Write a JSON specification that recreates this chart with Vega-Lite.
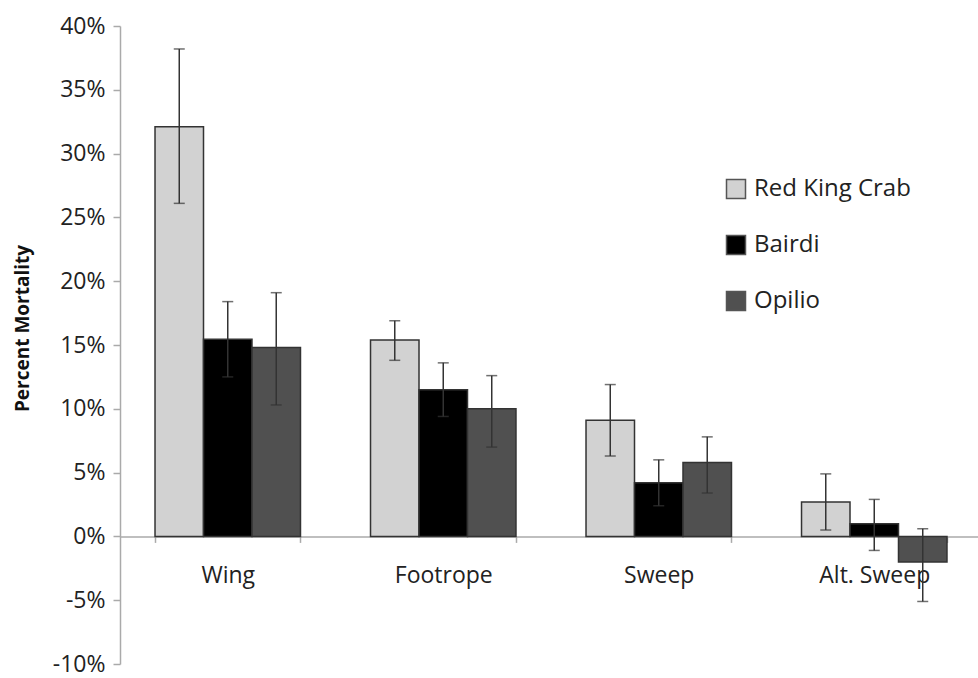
{
  "$schema": "https://vega.github.io/schema/vega-lite/v6.json",
  "width": 862,
  "height": 638,
  "autosize": {"type": "none"},
  "padding": {"left": 120, "top": 26, "right": 0, "bottom": 14},
  "background": "white",
  "config": {"view": {"stroke": null}, "font": "Open Sans"},
  "data": {
    "values": [
      {"gear": "Wing", "species": "Red King Crab", "mortality": 32.1, "lo": 26.1, "hi": 38.2},
      {"gear": "Wing", "species": "Bairdi", "mortality": 15.45, "lo": 12.5, "hi": 18.4},
      {"gear": "Wing", "species": "Opilio", "mortality": 14.8, "lo": 10.3, "hi": 19.1},
      {"gear": "Footrope", "species": "Red King Crab", "mortality": 15.4, "lo": 13.8, "hi": 16.9},
      {"gear": "Footrope", "species": "Bairdi", "mortality": 11.5, "lo": 9.4, "hi": 13.6},
      {"gear": "Footrope", "species": "Opilio", "mortality": 10.0, "lo": 7.0, "hi": 12.6},
      {"gear": "Sweep", "species": "Red King Crab", "mortality": 9.1, "lo": 6.3, "hi": 11.9},
      {"gear": "Sweep", "species": "Bairdi", "mortality": 4.2, "lo": 2.4, "hi": 6.0},
      {"gear": "Sweep", "species": "Opilio", "mortality": 5.8, "lo": 3.4, "hi": 7.8},
      {"gear": "Alt. Sweep", "species": "Red King Crab", "mortality": 2.7, "lo": 0.5, "hi": 4.9},
      {"gear": "Alt. Sweep", "species": "Bairdi", "mortality": 1.0, "lo": -1.1, "hi": 2.9},
      {"gear": "Alt. Sweep", "species": "Opilio", "mortality": -2.0, "lo": -5.1, "hi": 0.6}
    ]
  },
  "encoding": {
    "x": {
      "field": "gear",
      "type": "nominal",
      "sort": ["Wing", "Footrope", "Sweep", "Alt. Sweep"],
      "scale": {"paddingInner": 0.325, "paddingOuter": 0.1625},
      "axis": {
        "title": null,
        "orient": "bottom",
        "offset": -127.6,
        "labelAngle": 0,
        "labelFontSize": 23,
        "labelColor": "#222222",
        "labelPadding": 22,
        "domainColor": "#aaaaaa",
        "domainWidth": 1.5,
        "tickBand": "extent",
        "tickColor": "#aaaaaa",
        "tickWidth": 1.5,
        "tickSize": 6
      }
    },
    "xOffset": {"field": "species", "type": "nominal", "sort": ["Red King Crab", "Bairdi", "Opilio"]}
  },
  "layer": [
    {
      "mark": {"type": "bar", "stroke": "#333333", "strokeWidth": 1.5},
      "encoding": {
        "y": {
          "field": "mortality",
          "type": "quantitative",
          "scale": {"domain": [-10, 40], "nice": false},
          "axis": {
            "values": [-10, -5, 0, 5, 10, 15, 20, 25, 30, 35, 40],
            "labelExpr": "datum.value + '%'",
            "grid": false,
            "labelFontSize": 23,
            "labelColor": "#222222",
            "labelPadding": 8,
            "domainColor": "#aaaaaa",
            "domainWidth": 1.5,
            "tickColor": "#aaaaaa",
            "tickWidth": 1.5,
            "tickSize": 7,
            "title": "Percent Mortality",
            "titleFontSize": 19,
            "titleFontWeight": "bold",
            "titleColor": "#111111",
            "titleX": -88,
            "titleY": 302
          }
        },
        "color": {
          "field": "species",
          "type": "nominal",
          "scale": {"domain": ["Red King Crab", "Bairdi", "Opilio"], "range": ["#d2d2d2", "#000000", "#505050"]},
          "legend": {
            "title": null,
            "orient": "none",
            "legendX": 604,
            "legendY": 151,
            "symbolType": "square",
            "symbolSize": 361,
            "symbolStrokeColor": "#555555",
            "symbolStrokeWidth": 1.5,
            "labelFontSize": 24,
            "labelColor": "#222222",
            "labelOffset": 6,
            "rowPadding": 30
          }
        }
      }
    },
    {
      "mark": {"type": "rule", "color": "#333333", "strokeWidth": 1.5},
      "encoding": {
        "y": {"field": "lo", "type": "quantitative"},
        "y2": {"field": "hi"}
      }
    },
    {
      "mark": {"type": "tick", "color": "#333333", "thickness": 1.5, "size": 11},
      "encoding": {"y": {"field": "hi", "type": "quantitative"}}
    },
    {
      "mark": {"type": "tick", "color": "#333333", "thickness": 1.5, "size": 11},
      "encoding": {"y": {"field": "lo", "type": "quantitative"}}
    }
  ]
}
